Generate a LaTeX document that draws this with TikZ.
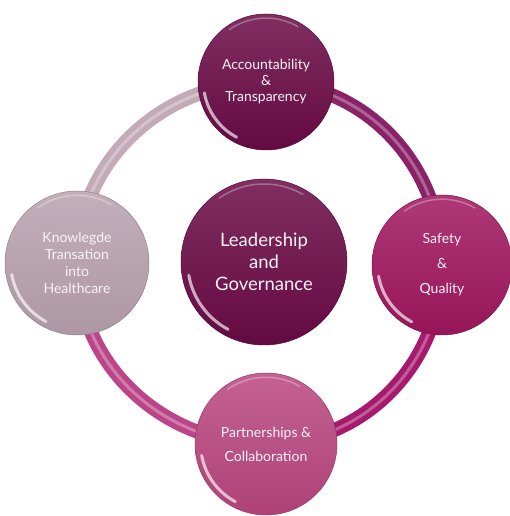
\documentclass[tikz,border=0pt]{standalone}
\usepackage{fontspec}
\setmainfont{Lato}
\usetikzlibrary{positioning}
\pgfdeclarelayer{background}
\pgfsetlayers{background,main}
\definecolor{plum}{HTML}{6A0A46}
\definecolor{berry}{HTML}{A0165F}
\definecolor{rose}{HTML}{B9467F}
\definecolor{mauve}{HTML}{B8A1AE}
\definecolor{ringdark}{HTML}{8A2268}
\definecolor{ringmid}{HTML}{A6196C}
\definecolor{ringpink}{HTML}{BC4589}
\definecolor{ringpale}{HTML}{C2AAB7}
\definecolor{softwhite}{HTML}{F9F2F6}
\tikzset{x=1pt, y=1pt,
every node/.style={text=softwhite, align=center}, % all labels are light
ball/.style 2 args={ % glossy disc: diameter, base colour
circle, minimum size=#1, inner sep=0pt,
draw=#2!80!black, line width=0.5pt,
top color=#2!85!white, middle color=#2, bottom color=#2!94!black,
path picture={
\draw[white, opacity=.65, line width=3pt, line cap=round]
([shift={(190:0.46*#1)}]path picture bounding box.center)
arc[start angle=190, end angle=242, radius=0.46*#1];
\draw[white, opacity=.3, line width=1.5pt, line cap=round]
([shift={(60:0.47*#1)}]path picture bounding box.center)
arc[start angle=60, end angle=125, radius=0.47*#1];
}},
ring/.style={draw=#1, line width=14pt},
ringshine/.style={draw=white, opacity=.3, line width=3pt}}

\begin{document}
\begin{tikzpicture}
\useasboundingbox (0,0) rectangle (510,516);

\node[ball={166}{plum}, font=\fontsize{18.5}{22}\selectfont] (lead) at (264,254)
{Leadership\\and\\Governance};
\node[ball={136}{plum}, font=\fontsize{14}{16}\selectfont] (acct) at (266,434)
{Accountability\\\&\\Transparency};
\node[ball={140}{berry}, font=\fontsize{14}{25}\selectfont] (safe) at (442,251)
{Safety\\\&\\Quality};
\node[ball={142}{rose}, font=\fontsize{14}{24}\selectfont] (part) at (266,72)
{Partnerships \&\\Collaboration};
\node[ball={144}{mauve}, font=\fontsize{14}{17}\selectfont] (know) at (77,253)
{Knowlegde\\Transation\\into\\Healthcare};

\begin{pgfonlayer}{background}
\draw[ring=ringpale] (know.center) to[out=90, in=180] (acct.center);
\draw[ring=ringdark] (acct.center) to[out=0, in=90] (safe.center);
\draw[ring=ringmid] (safe.center) to[out=-90, in=0] (part.center);
\draw[ring=ringpink] (part.center) to[out=180, in=-90] (know.center);
\draw[ringshine] (know.center) to[out=90, in=180] (acct.center)
to[out=0, in=90] (safe.center) to[out=-90, in=0] (part.center)
to[out=180, in=-90] (know.center);
\end{pgfonlayer}

\end{tikzpicture}
\end{document}
